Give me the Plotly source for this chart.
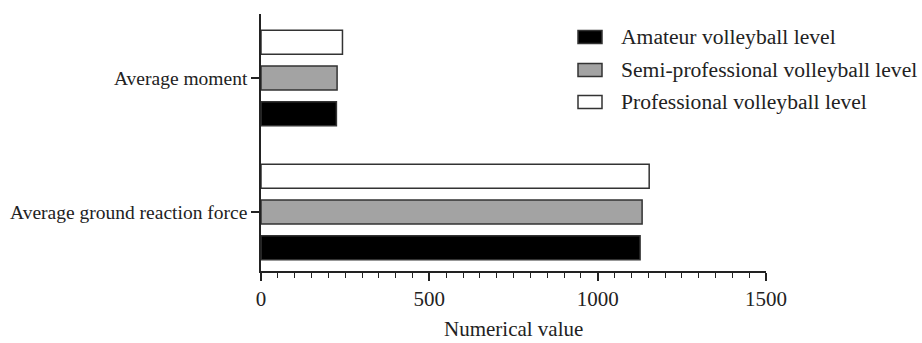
import plotly.graph_objects as go

# Data
categories = ["Average ground reaction force", "Average moment"]
series_names = [
    "Amateur volleyball level",
    "Semi-professional volleyball level",
    "Professional volleyball level",
]
amateur = [1126, 224]
semi_pro = [1132, 226]
professional = [1153, 242]
fills = ["#000000", "#a3a3a3", "#ffffff"]

W, H = 922, 343
M_L, M_R, M_T, M_B = 261, 156, 14, 72
FONT = "Liberation Serif, Times New Roman, serif"

fig = go.Figure()
for name, vals, col in zip(series_names, [amateur, semi_pro, professional], fills):
    fig.add_trace(go.Bar(
        y=categories, x=vals, name=name, orientation="h",
        marker=dict(color=col, line=dict(color="#333333", width=1.5)),
        showlegend=False,
    ))

# Custom legend with wide rectangular swatches
pw, ph = W - M_L - M_R, H - M_T - M_B
def px(x):
    return (x - M_L) / pw
def py(y):
    return (H - M_B - y) / ph

legend_rows = [37, 70, 102]
for name, col, yc in zip(series_names, fills, legend_rows):
    fig.add_shape(type="rect", xref="paper", yref="paper",
                  x0=px(578), x1=px(602), y0=py(yc - 6.5), y1=py(yc + 6.5),
                  fillcolor=col, line=dict(color="#333333", width=1.5))
    fig.add_annotation(xref="paper", yref="paper", x=px(619), y=py(yc),
                       text=name, showarrow=False, xanchor="left", yanchor="middle",
                       font=dict(family=FONT, size=21.6, color="#222222"))

# x-axis title placed below the tick labels
fig.add_annotation(xref="paper", yref="paper", x=0.5, y=py(329),
                   text="Numerical value", showarrow=False,
                   xanchor="center", yanchor="middle",
                   font=dict(family=FONT, size=21, color="#222222"))

fig.update_layout(
    width=W, height=H,
    margin=dict(l=M_L, r=M_R, t=M_T, b=M_B),
    paper_bgcolor="white", plot_bgcolor="white",
    barmode="group", bargap=0.2, bargroupgap=0.33,
    font=dict(family=FONT, size=20, color="#222222"),
)
fig.update_xaxes(
    range=[0, 1500], dtick=500, tick0=0, automargin=False,
    showline=True, linecolor="#222222", linewidth=1.5,
    ticks="outside", ticklen=8, tickwidth=1.5, tickcolor="#222222",
    minor=dict(dtick=50, ticks="outside", ticklen=5, tickwidth=1, tickcolor="#222222"),
    showgrid=False, zeroline=False,
    tickfont=dict(family=FONT, size=21),
)
fig.update_yaxes(
    range=[-0.44, 1.478], automargin=False,
    showline=True, linecolor="#222222", linewidth=1.5,
    ticks="outside", ticklen=8, tickwidth=1.5, tickcolor="#222222",
    showgrid=False, zeroline=False,
    tickfont=dict(family=FONT, size=19.5),
)

fig.write_html("out.html")
